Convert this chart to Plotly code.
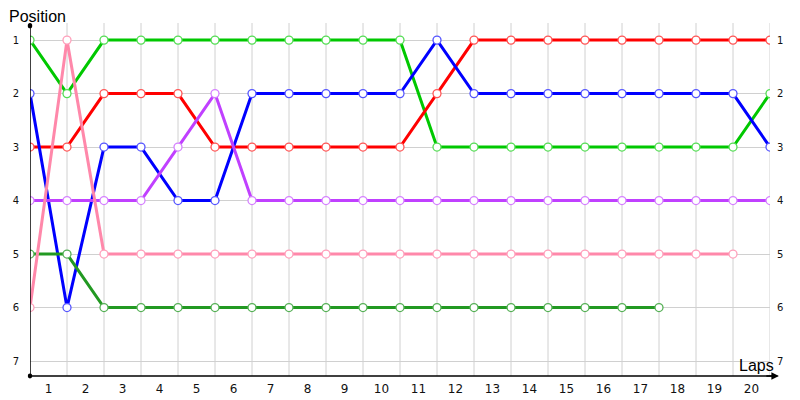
import plotly.graph_objects as go

# race positions at each lap boundary (index 0..20)
laps = list(range(21))
lap_labels = [str(i) for i in range(1, 21)]
positions = [1, 2, 3, 4, 5, 6, 7]

green = [1, 2, 1, 1, 1, 1, 1, 1, 1, 1, 1, 3, 3, 3, 3, 3, 3, 3, 3, 3, 2]
red = [3, 3, 2, 2, 2, 3, 3, 3, 3, 3, 3, 2, 1, 1, 1, 1, 1, 1, 1, 1, 1]
blue = [2, 6, 3, 3, 4, 4, 2, 2, 2, 2, 2, 1, 2, 2, 2, 2, 2, 2, 2, 2, 3]
purple = [4, 4, 4, 4, 3, 2, 4, 4, 4, 4, 4, 4, 4, 4, 4, 4, 4, 4, 4, 4, 4]
pink = [6, 1, 5, 5, 5, 5, 5, 5, 5, 5, 5, 5, 5, 5, 5, 5, 5, 5, 5, 5]
darkgreen = [5, 5, 6, 6, 6, 6, 6, 6, 6, 6, 6, 6, 6, 6, 6, 6, 6, 6]

series = [
    (green, "#00c800", "#55dd55"),
    (red, "#ff0000", "#ff5555"),
    (blue, "#0000ff", "#5555ff"),
    (purple, "#c040ff", "#d580ff"),
    (darkgreen, "#229922", "#55b055"),
    (pink, "#ff88aa", "#ffa0bb"),
]

fig = go.Figure()
for vals, col, mcol in series:
    fig.add_trace(go.Scatter(
        x=laps[:len(vals)], y=vals, mode="lines+markers",
        line=dict(color=col, width=3),
        marker=dict(size=8, color="white", line=dict(color=mcol, width=1.3)),
        showlegend=False, hoverinfo="skip",
    ))

# invisible trace so the right-hand axis is drawn
fig.add_trace(go.Scatter(x=[0], y=[1], yaxis="y2", mode="markers",
                         marker=dict(opacity=0), showlegend=False, hoverinfo="skip"))

yr = [7.28, 0.68]
# page has an 8px body margin, so margins are offset to compensate
fig.update_layout(
    width=800, height=400,
    margin=dict(l=22, r=38, t=15, b=32),
    plot_bgcolor="white", paper_bgcolor="white",
    font=dict(family="DejaVu Sans", color="#111"),
    xaxis=dict(
        range=[0, 20], tickmode="array",
        tickvals=[i + 0.5 for i in range(20)], ticktext=lap_labels,
        showgrid=False, zeroline=False, showline=False, automargin=False,
        ticks="", tickfont=dict(size=12), ticklabelstandoff=4,
    ),
    yaxis=dict(
        range=yr, tickmode="array", tickvals=positions,
        ticktext=[str(p) for p in positions],
        showgrid=True, gridcolor="#d0d0d0", gridwidth=1,
        zeroline=False, showline=False, ticks="", automargin=False,
        tickfont=dict(size=10), ticklabelstandoff=10,
    ),
    yaxis2=dict(
        range=yr, overlaying="y", side="right", tickmode="array",
        tickvals=positions, ticktext=[str(p) for p in positions],
        showgrid=False, zeroline=False, showline=False, ticks="",
        automargin=False, tickfont=dict(size=10), ticklabelstandoff=6,
    ),
)

# vertical grid lines at lap boundaries
for i in laps[1:]:
    fig.add_shape(type="line", xref="x", yref="paper", x0=i, x1=i, y0=0, y1=1,
                  line=dict(color="#d0d0d0", width=1), layer="below")

# axes with arrows
fig.add_shape(type="line", xref="x", yref="paper", x0=0, x1=0, y0=0, y1=0.995,
              line=dict(color="black", width=1.5))
fig.add_shape(type="line", xref="paper", yref="paper", x0=0, x1=1.01, y0=0, y1=0,
              line=dict(color="black", width=1.5))
fig.add_shape(type="circle", xref="paper", yref="paper", x0=-0.003, x1=0.003,
              y0=0.985, y1=1.0, fillcolor="black", line=dict(width=0))
fig.add_shape(type="circle", xref="paper", yref="paper", x0=-0.003, x1=0.003,
              y0=-0.007, y1=0.007, fillcolor="black", line=dict(width=0))
fig.add_annotation(xref="paper", yref="paper", x=1.012, y=0, ax=-14, ay=0,
                   showarrow=True, arrowhead=2, arrowsize=1, arrowwidth=1.5,
                   arrowcolor="black", text="")

fig.add_annotation(xref="paper", yref="paper", x=-0.0297, y=1.0, xanchor="left",
                   yanchor="bottom", yshift=-3, borderpad=0, text="Position",
                   showarrow=False,
                   font=dict(family="Liberation Sans", size=16, color="black"))
fig.add_annotation(xref="paper", yref="paper", x=1.007, y=0, xanchor="right",
                   yanchor="bottom", yshift=1, borderpad=0, text="Laps",
                   showarrow=False,
                   font=dict(family="Liberation Sans", size=16, color="black"))

fig.write_html("out.html")
